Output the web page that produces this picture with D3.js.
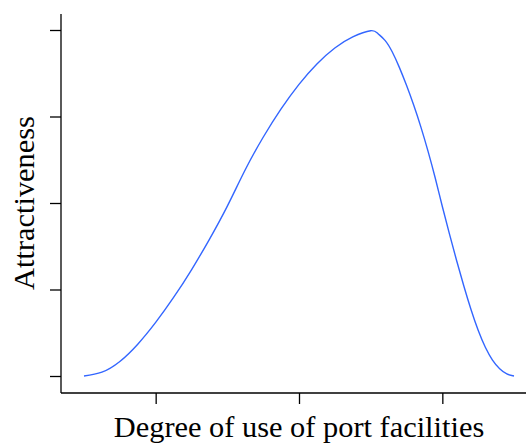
<!DOCTYPE html>
<html>
<head>
<meta charset="utf-8">
<script src="https://cdn.jsdelivr.net/npm/d3@7"></script>
<style>
  html, body { margin: 0; padding: 0; background: #fff; }
  svg { display: block; }
</style>
</head>
<body>
<script>
// Curve readings (degree of use -> attractiveness)
const usage = [1.0, 1.25, 1.5, 1.75, 2.0, 2.25, 2.5, 2.75, 3.0, 3.25, 3.5, 3.75, 4.0, 4.25, 4.5, 4.75, 5.0,
  5.1, 5.2, 5.3, 5.4, 5.5, 5.6, 5.7, 5.8, 5.9, 6.0, 6.1, 6.2, 6.3, 6.4, 6.5, 6.6, 6.7, 6.8, 6.9, 7.0];
const attractiveness = [0, 0.011, 0.042, 0.092, 0.155, 0.227, 0.307, 0.395, 0.491, 0.596, 0.69, 0.772, 0.843, 0.902, 0.948, 0.98, 0.998,
  0.99, 0.97, 0.937, 0.892, 0.84, 0.783, 0.72, 0.65, 0.573, 0.49, 0.41, 0.333, 0.26, 0.192, 0.132, 0.083, 0.046, 0.021, 0.006, 0];
const xTicks = [2, 4, 6];
const yTicks = [0, 0.25, 0.5, 0.75, 1];

const width = 526;
const height = 443;

const svg = d3.select("body")
  .append("svg")
  .attr("width", width)
  .attr("height", height)
  .style("font-family", "'Liberation Serif', 'Times New Roman', serif");

// Scales
const x = d3.scaleLinear().domain([1, 7]).range([84, 514]);
const y = d3.scaleLinear().domain([0, 1]).range([376, 30]);

const axisX = 61;   // left axis position
const axisY = 393;  // bottom axis position

// Y axis: L-shaped, ticks only (no labels)
const yAxis = svg.append("g")
  .attr("transform", `translate(${axisX},0)`)
  .call(d3.axisLeft(y).tickValues(yTicks).tickSize(11).tickSizeOuter(0).tickFormat(""));
yAxis.select(".domain").attr("d", `M0,14V${axisY}`);

// X axis
const xAxis = svg.append("g")
  .attr("transform", `translate(0,${axisY})`)
  .call(d3.axisBottom(x).tickValues(xTicks).tickSize(11).tickSizeOuter(0).tickFormat(""));
xAxis.select(".domain").attr("d", `M${axisX},0H${width}`);

svg.selectAll(".domain, .tick line")
  .attr("stroke", "#000")
  .attr("stroke-width", 1.3);

// The curve
const points = usage.map((u, i) => [u, attractiveness[i]]);
svg.append("path")
  .datum(points)
  .attr("fill", "none")
  .attr("stroke", "#3366FF")
  .attr("stroke-width", 1.4)
  .attr("d", d3.line()
    .x((d) => x(d[0]))
    .y((d) => y(d[1]))
    .curve(d3.curveNatural));

// Axis titles
svg.append("text")
  .attr("x", 299)
  .attr("y", 437)
  .attr("text-anchor", "middle")
  .attr("font-size", 30.4)
  .text("Degree of use of port facilities");

svg.append("text")
  .attr("transform", "translate(34,203) rotate(-90)")
  .attr("text-anchor", "middle")
  .attr("font-size", 30.4)
  .text("Attractiveness");
</script>
</body>
</html>
